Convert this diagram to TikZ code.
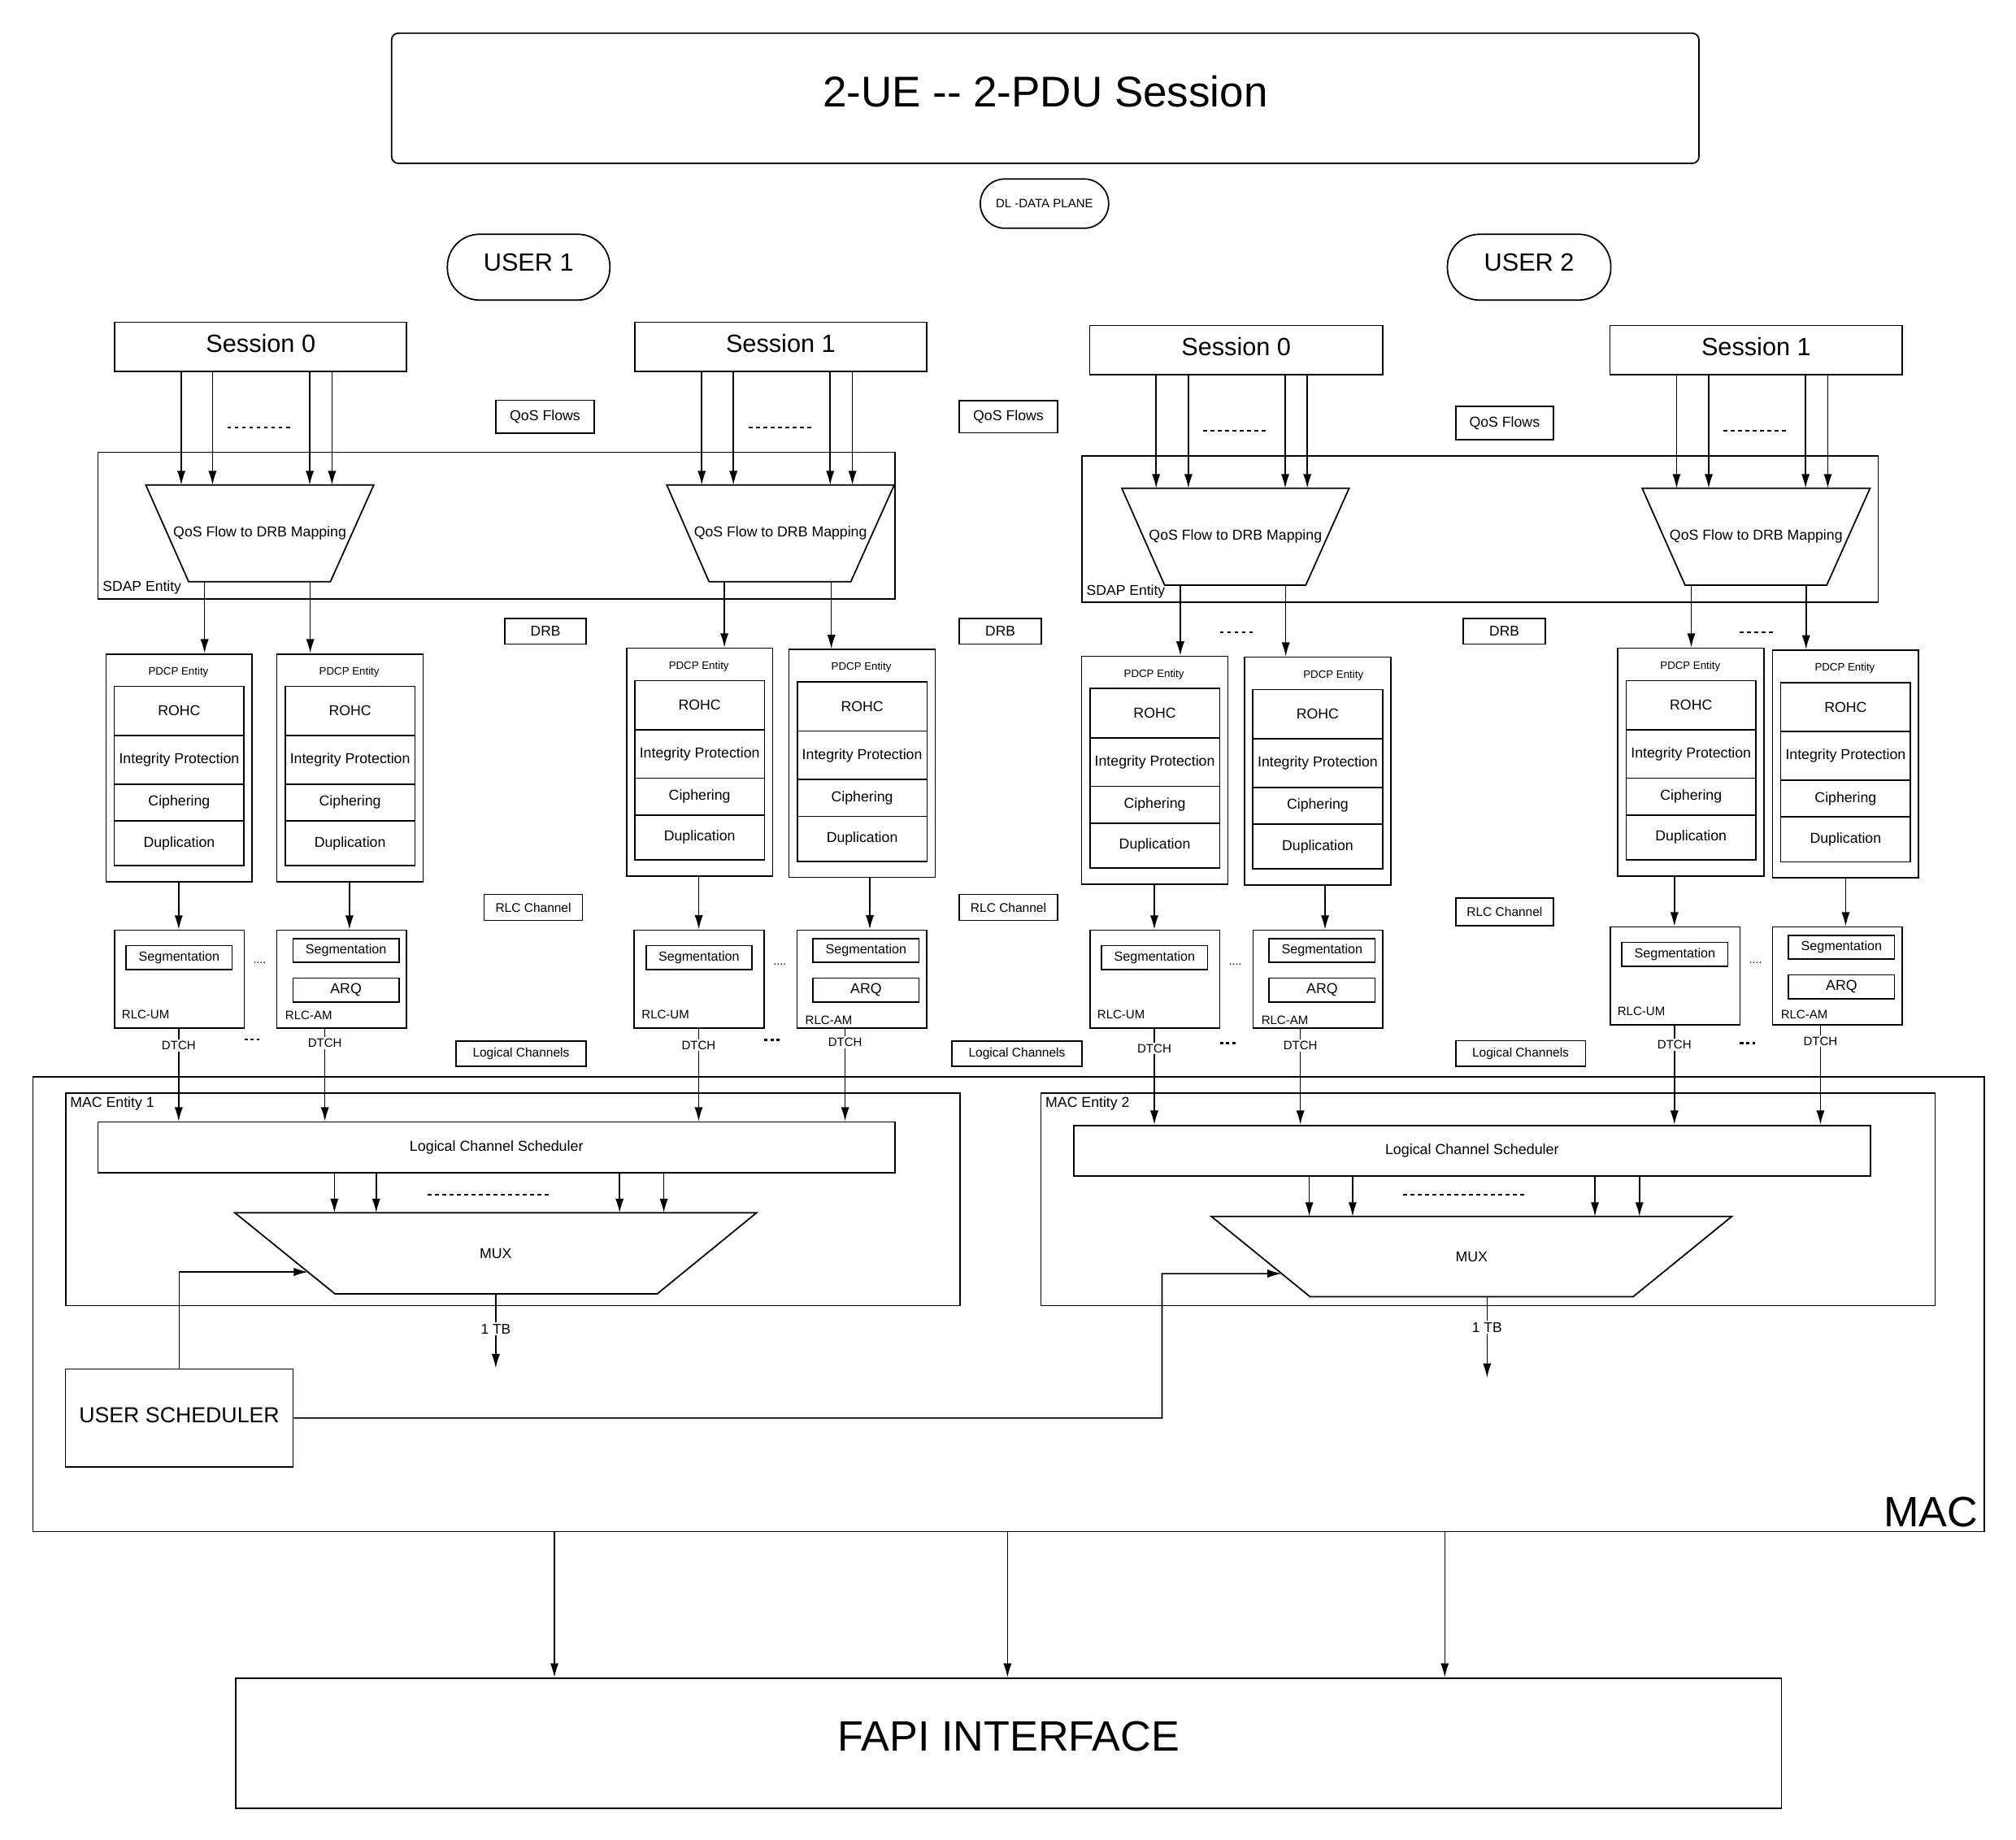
\documentclass[tikz,border=0pt]{standalone}
\usepackage{fontspec}
\setmainfont{Liberation Sans}
\usetikzlibrary{arrows.meta,calc}
\newcommand\fs[1]{\fontsize{#1}{#1}\selectfont}
\tikzset{
 bx/.style={draw, line width=1.1pt, inner sep=0pt, anchor=north west},
 shp/.style={draw, line width=1.1pt, line join=miter},
 arr/.style={line width=1pt, -{Latex[length=11pt,width=6.5pt]}},
 dotl/.style={line width=1.3pt, dash pattern=on 3pt off 2.7pt},
 dsh/.style={line width=1.5pt, dash pattern=on 2.6pt off 2.2pt},
 lbl/.style={fill=white, inner sep=1.2pt, font=\fs{9.5}},
 small/.style={font=\fs{9.8}},
}
\newcommand\bnode[7][]{\node[bx,minimum width={(#5)-(#3)},minimum height={(#6)-(#4)},#1] (#2) at (#3,#4) {#7};}
\newcommand\pdcp[4]{%
 \node[bx,minimum width=113.7,minimum height=177.2] (#1) at (#2,#3) {};
 \node[font=\fs{8.4},inner sep=0pt] (#1t) at ({#2+56.85+#4},{#3+14.6}) {PDCP Entity};
 \node[bx,minimum width=101,minimum height=38.2,font=\fs{11.2}] (#1r) at ({#2+6.4},{#3+25.2}) {ROHC};
 \node[bx,minimum width=101,minimum height=37.8,font=\fs{11.2}] (#1i) at ({#2+6.4},{#3+63.4}) {Integrity Protection};
 \node[bx,minimum width=101,minimum height=28.5,font=\fs{11.2}] (#1c) at ({#2+6.4},{#3+101.2}) {Ciphering};
 \node[bx,minimum width=101,minimum height=35,font=\fs{11.2}] (#1d) at ({#2+6.4},{#3+129.7}) {Duplication};
}
\newcommand\rlcum[3]{%
 \node[bx,minimum width=101,minimum height=76.1] (#1) at (#2,#3) {};
 \node[bx,minimum width=82.4,minimum height=18.6,font=\fs{10.2}] (#1s) at ({#2+9.1},{#3+12}) {Segmentation};
 \node[anchor=west,inner sep=0pt,font=\fs{9.5}] (#1l) at ({#2+6.1},{#3+66}) {RLC-UM};
}
\newcommand\rlcam[4]{%
 \node[bx,minimum width=101,minimum height=76.1] (#1) at (#2,#3) {};
 \node[bx,minimum width=82.3,minimum height=18.2,font=\fs{10.2}] (#1s) at ({#2+12.6},{#3+6.7}) {Segmentation};
 \node[bx,minimum width=82.3,minimum height=18.6,font=\fs{11.2}] (#1a) at ({#2+12.6},{#3+37.3}) {ARQ};
 \node[anchor=west,inner sep=0pt,font=\fs{9.5}] (#1l) at ({#2+6.9},{#3+#4}) {RLC-AM};
}
\newcommand\trap[8]{%
 \coordinate (#1tl) at (#2,#4); \coordinate (#1tr) at (#3,#4);
 \coordinate (#1br) at (#6,#7); \coordinate (#1bl) at (#5,#7);
 \draw[shp] (#1tl) -- (#1tr) -- (#1br) -- (#1bl) -- cycle;
 \node[font=\fs{11.2},inner sep=0pt] (#1) at ({(#2+#3)/2},{(#4+#7)/2}) {#8};
}
\begin{document}
\begin{tikzpicture}[x=1pt,y=-1pt]
\useasboundingbox (0,0) rectangle (1568,1431);

% title and headers
\bnode[rounded corners=5pt,font=\fs{33.5},text depth=10.6pt]{title}{304.1}{25.3}{1320.8}{126.5}{2-UE -{}- 2-PDU Session}
\bnode[rounded corners=19pt,font=\fs{9.5}]{dl}{761.9}{138.7}{861.7}{177}{DL -DATA PLANE}
\bnode[rounded corners=25pt,font=\fs{19.4},text depth=7pt]{user1}{347.4}{181.7}{473.8}{232.9}{USER 1}
\bnode[rounded corners=25pt,font=\fs{19.4},text depth=7pt]{user2}{1125.2}{181.7}{1252.3}{232.9}{USER 2}

% sessions
\bnode[font=\fs{19.4},text depth=5.4pt]{s1}{88.7}{250.2}{315.8}{288.3}{Session 0}
\bnode[font=\fs{19.4},text depth=5.4pt]{s2}{493.1}{250.2}{720.2}{288.3}{Session 1}
\bnode[font=\fs{19.4},text depth=5.4pt]{s3}{846.9}{252.7}{1074.9}{290.8}{Session 0}
\bnode[font=\fs{19.4},text depth=5.4pt]{s4}{1251.7}{252.7}{1479}{290.8}{Session 1}

% side labels
\bnode[font=\fs{11.2}]{qos1}{385.3}{310.9}{461.4}{336.4}{QoS Flows}
\bnode[font=\fs{11.2}]{qos2}{745.7}{311.1}{821.8}{336.2}{QoS Flows}
\bnode[font=\fs{11.2}]{qos3}{1131.6}{315.7}{1207.7}{341.4}{QoS Flows}
\bnode[font=\fs{11}]{drb1}{392.1}{480.7}{455.4}{500.5}{DRB}
\bnode[font=\fs{11}]{drb2}{745.7}{480.7}{809.3}{500.5}{DRB}
\bnode[font=\fs{11}]{drb3}{1137.7}{480.7}{1201.3}{500.5}{DRB}
\bnode[small]{rlcc1}{376}{695.3}{452.5}{715.5}{RLC Channel}
\bnode[small]{rlcc2}{745.7}{695.3}{821.8}{715.5}{RLC Channel}
\bnode[small]{rlcc3}{1131.6}{698.2}{1207.8}{719.7}{RLC Channel}
\bnode[small]{lc1}{354}{809.2}{455.4}{829.1}{Logical Channels}
\bnode[small]{lc2}{739.9}{809.2}{840.9}{829.1}{Logical Channels}
\bnode[small]{lc3}{1131.6}{809}{1232.6}{829}{Logical Channels}

% SDAP
\bnode{sd1}{75.6}{351.3}{695.5}{465.4}{}
\bnode{sd2}{841.2}{354.1}{1460.3}{467.9}{}
\node[anchor=west,inner sep=0pt,font=\fs{11.1}] (sd1l) at (79.7,457.3) {SDAP Entity};
\node[anchor=west,inner sep=0pt,font=\fs{11.1}] (sd2l) at (844.9,460.5) {SDAP Entity};
\trap{t1}{113.4}{290.7}{377.3}{146.7}{257}{452.5}{QoS Flow to DRB Mapping}
\trap{t2}{518.6}{695.5}{377.3}{551.5}{661.7}{452.6}{QoS Flow to DRB Mapping}
\trap{t3}{872.5}{1049.3}{379.8}{905.8}{1015.6}{455.2}{QoS Flow to DRB Mapping}
\trap{t4}{1277.2}{1454.5}{379.8}{1310.6}{1420.8}{455.2}{QoS Flow to DRB Mapping}

\foreach \x in {141,165.3,240.9,258.2} \draw[arr] (s1.south -| \x,0) -- (t1tl -| \x,0);
\foreach \x in {545.8,570.4,645.7,663} \draw[arr] (s2.south -| \x,0) -- (t2tl -| \x,0);
\foreach \x in {899.2,924.3,999.6,1016.8} \draw[arr] (s3.south -| \x,0) -- (t3tl -| \x,0);
\foreach \x in {1304,1329,1404.3,1421.6} \draw[arr] (s4.south -| \x,0) -- (t4tl -| \x,0);
\draw[dotl] (176.8,332.6) -- (227.7,332.6);
\draw[dotl] (582.3,332.6) -- (633,332.6);
\draw[dotl] (935.8,335.3) -- (986.4,335.3);
\draw[dotl] (1340.6,335.3) -- (1391.2,335.3);

% PDCP
\pdcp{p1}{81.9}{508.2}{0}
\pdcp{p2}{214.8}{508.2}{0}
\pdcp{p3}{486.7}{503.7}{0}
\pdcp{p4}{613.1}{504.8}{0}
\pdcp{p5}{840.7}{510.0}{0}
\pdcp{p6}{967.4}{510.7}{12.8}
\pdcp{p7}{1257.8}{503.7}{0}
\pdcp{p8}{1378}{505.2}{0}

\draw[arr] (t1bl -| 159.1,0) -- (p1.north -| 159.1,0);
\draw[arr] (t1bl -| 241.3,0) -- (p2.north -| 241.3,0);
\draw[arr] (t2bl -| 563.4,0) -- (p3.north -| 563.4,0);
\draw[arr] (t2bl -| 646.6,0) -- (p4.north -| 646.6,0);
\draw[arr] (t3bl -| 918,0) -- (p5.north -| 918,0);
\draw[arr] (t3bl -| 1000,0) -- (p6.north -| 1000,0);
\draw[arr] (t4bl -| 1315.4,0) -- (p7.north -| 1315.4,0);
\draw[arr] (t4bl -| 1404.7,0) -- (p8.north -| 1404.7,0);
\draw[dotl] (948.7,492) -- (974,492);
\draw[dotl] (1353,492) -- (1380,492);

% RLC
\rlcum{um1}{88.5}{723.1}
\rlcam{am1}{214.8}{723.1}{66.8}
\rlcum{um2}{492.8}{723}
\rlcam{am2}{619.3}{723}{70.6}
\rlcum{um3}{847.2}{723.1}
\rlcam{am3}{974}{723.1}{70.4}
\rlcum{um4}{1251.8}{720.6}
\rlcam{am4}{1378}{720.6}{68.7}

\draw[arr] (p1.south -| 139,0) -- (um1.north -| 139,0);
\draw[arr] (p2.south -| 271.8,0) -- (am1.north -| 271.8,0);
\draw[arr] (p3.south -| 543.5,0) -- (um2.north -| 543.5,0);
\draw[arr] (p4.south -| 676.5,0) -- (am2.north -| 676.5,0);
\draw[arr] (p5.south -| 897.8,0) -- (um3.north -| 897.8,0);
\draw[arr] (p6.south -| 1030.6,0) -- (am3.north -| 1030.6,0);
\draw[arr] (p7.south -| 1302.3,0) -- (um4.north -| 1302.3,0);
\draw[arr] (p8.south -| 1435.5,0) -- (am4.north -| 1435.5,0);

\node[font=\fs{9},anchor=base] (e1) at (202,749.5) {....};
\node[font=\fs{9},anchor=base] (e2) at (606.5,750.5) {....};
\node[font=\fs{9},anchor=base] (e3) at (960.7,750.5) {....};
\node[font=\fs{9},anchor=base] (e4) at (1365.4,749.3) {....};

% MAC
\bnode{mac}{25.1}{837}{1542.9}{1191}{}
\node[font=\fs{33},anchor=base east,inner sep=0pt] (macl) at (1538.5,1187.5) {MAC};
\bnode{me1}{50.6}{849.6}{746.1}{1015.2}{}
\bnode{me2}{809.1}{849.6}{1504.5}{1015.2}{}
\node[anchor=west,inner sep=0pt,font=\fs{11.2}] (me1l) at (54.4,858.8) {MAC Entity 1};
\node[anchor=west,inner sep=0pt,font=\fs{11.2}] (me2l) at (813,858.8) {MAC Entity 2};
\bnode[font=\fs{11.3}]{lcs1}{75.6}{872.3}{695.6}{911.7}{Logical Channel Scheduler}
\bnode[font=\fs{11.3}]{lcs2}{834.6}{874.9}{1454.1}{914.1}{Logical Channel Scheduler}

% DTCH
\draw[arr] (um1.south -| 139,0) -- (lcs1.north -| 139,0);
\node[lbl] (d1) at (139,813.5) {DTCH};
\draw[arr] (am1.south -| 252.7,0) -- (lcs1.north -| 252.7,0);
\node[lbl] (d2) at (252.7,811.4) {DTCH};
\draw[arr] (um2.south -| 543.4,0) -- (lcs1.north -| 543.4,0);
\node[lbl] (d3) at (543.4,813.1) {DTCH};
\draw[arr] (am2.south -| 657.3,0) -- (lcs1.north -| 657.3,0);
\node[lbl] (d4) at (657.3,811) {DTCH};
\draw[arr] (um3.south -| 897.8,0) -- (lcs2.north -| 897.8,0);
\node[lbl] (d5) at (897.8,815.6) {DTCH};
\draw[arr] (am3.south -| 1011.4,0) -- (lcs2.north -| 1011.4,0);
\node[lbl] (d6) at (1011.4,813.5) {DTCH};
\draw[arr] (um4.south -| 1302.3,0) -- (lcs2.north -| 1302.3,0);
\node[lbl] (d7) at (1302.3,812.7) {DTCH};
\draw[arr] (am4.south -| 1415.9,0) -- (lcs2.north -| 1415.9,0);
\node[lbl] (d8) at (1415.9,810) {DTCH};
\draw[dsh] (190,808.7) -- (202,808.7);
\draw[dsh] (594.4,809) -- (606.4,809);
\draw[dsh] (948.8,811.4) -- (960.8,811.4);
\draw[dsh] (1353.3,811.4) -- (1365.3,811.4);

% MUX
\trap{m1}{182.7}{588.4}{943.5}{260.6}{511.1}{1006.6}{MUX}
\trap{m2}{942.1}{1347}{946.3}{1018.8}{1270.3}{1008.7}{MUX}
\foreach \x in {260.1,292.6,481.9,516.3} \draw[arr] (lcs1.south -| \x,0) -- (m1tl -| \x,0);
\foreach \x in {1018.3,1052,1240.5,1275.1} \draw[arr] (lcs2.south -| \x,0) -- (m2tl -| \x,0);
\draw[dotl] (332.7,929.5) -- (429.5,929.5);
\draw[dotl] (1091.3,929.5) -- (1187.7,929.5);

% 1 TB outputs
\coordinate (tb1) at (385.6,1064.3);
\coordinate (tb2) at (1156.6,1071.7);
\draw[arr] (m1bl -| 385.6,0) -- (tb1);
\node[lbl,font=\fs{11}] (tb1l) at (385.6,1033.8) {1 TB};
\draw[arr] (m2bl -| 1156.6,0) -- (tb2);
\node[lbl,font=\fs{11}] (tb2l) at (1156.6,1032.7) {1 TB};

% user scheduler
\bnode[font=\fs{16.9},text depth=4.8pt]{us}{50.4}{1064.5}{227.4}{1140.6}{USER SCHEDULER}
\coordinate (m1hit) at ($(m1tl)!0.729!(m1bl)$);
\coordinate (m2hit) at ($(m2tl)!0.713!(m2bl)$);
\coordinate (ucorner) at (903.8,990.8);
\draw[arr] (us.north) |- (m1hit);
\draw[arr] (us.east) -| (ucorner) -- (m2hit);

% FAPI
\bnode[font=\fs{33},text depth=11.2pt]{fapi}{183}{1305}{1385}{1406}{FAPI INTERFACE}
\foreach \x in {431.2,783.6,1123.7} \draw[arr] (mac.south -| \x,0) -- (fapi.north -| \x,0);
\end{tikzpicture}
\end{document}
